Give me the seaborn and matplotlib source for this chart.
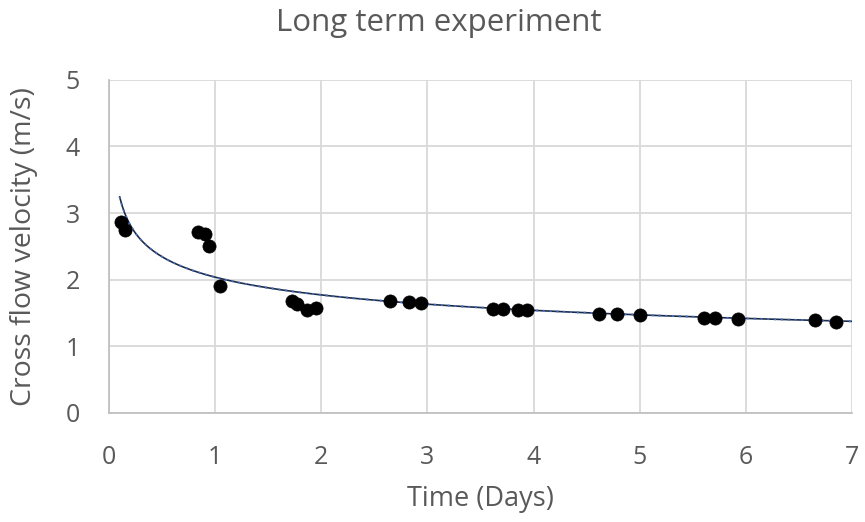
import numpy as np
import pandas as pd
import matplotlib
matplotlib.use("Agg")
import matplotlib.pyplot as plt
import seaborn as sns

days = [0.11, 0.15, 0.84, 0.90, 0.94, 1.05, 1.72, 1.77, 1.87, 1.95,
        2.65, 2.83, 2.94, 3.62, 3.71, 3.85, 3.94, 4.62, 4.79, 5.00,
        5.61, 5.71, 5.93, 6.65, 6.85]
velocity = [2.87, 2.75, 2.71, 2.69, 2.51, 1.91, 1.68, 1.64, 1.55, 1.58,
            1.68, 1.67, 1.65, 1.56, 1.56, 1.55, 1.55, 1.49, 1.49, 1.47,
            1.43, 1.43, 1.41, 1.39, 1.37]
x_ticks = [0, 1, 2, 3, 4, 5, 6, 7]
y_ticks = [0, 1, 2, 3, 4, 5]

df = pd.DataFrame({"Time (Days)": days, "Cross flow velocity (m/s)": velocity})

sns.set_theme(style="whitegrid")
plt.rcParams["font.family"] = ["Open Sans", "DejaVu Sans"]
gray = "#595959"

fig = plt.figure(figsize=(8.65, 5.22), dpi=100)
ax = fig.add_axes([0.126, 0.209, 0.859, 0.638])

# power trendline fitted from the data (like Excel's power trendline)
b, lna = np.polyfit(np.log(df["Time (Days)"]), np.log(df["Cross flow velocity (m/s)"]), 1)
xf = np.linspace(min(days) - 0.01, 7, 300)
yf = np.exp(lna) * xf ** b
ax.plot(xf, yf, color="#1f2a44", lw=1.2, zorder=3)
ax.plot(xf, yf, color="#4472c4", lw=1.4, ls=(0, (1, 2.5)), zorder=3)

sns.scatterplot(data=df, x="Time (Days)", y="Cross flow velocity (m/s)", ax=ax,
                color="black", s=90, edgecolor="black", linewidth=0.5, zorder=4)

ax.set_xlim(0, 7)
ax.set_ylim(0, 5)
ax.set_xticks(x_ticks)
ax.set_yticks(y_ticks)
ax.grid(True, color="#d9d9d9", lw=1.3)
for s in ax.spines.values():
    s.set_visible(False)
ax.spines["left"].set_visible(True)
ax.spines["bottom"].set_visible(True)
ax.spines["left"].set_color("#bfbfbf")
ax.spines["bottom"].set_color("#bfbfbf")
ax.tick_params(axis="both", colors=gray, labelsize=18, length=0)
ax.tick_params(axis="x", pad=23)
ax.tick_params(axis="y", pad=21)
ax.set_xlabel("Time (Days)", color=gray, fontsize=19.5)
ax.set_ylabel("Cross flow velocity (m/s)", color=gray, fontsize=20.5)
ax.xaxis.set_label_coords(0.5, -0.215)
ax.yaxis.set_label_coords(-0.096, 0.5)
fig.text(0.507, 0.955, "Long term experiment", ha="center", va="center", color=gray, fontsize=22.5)

fig.savefig("out.png", dpi=100, facecolor="white")
